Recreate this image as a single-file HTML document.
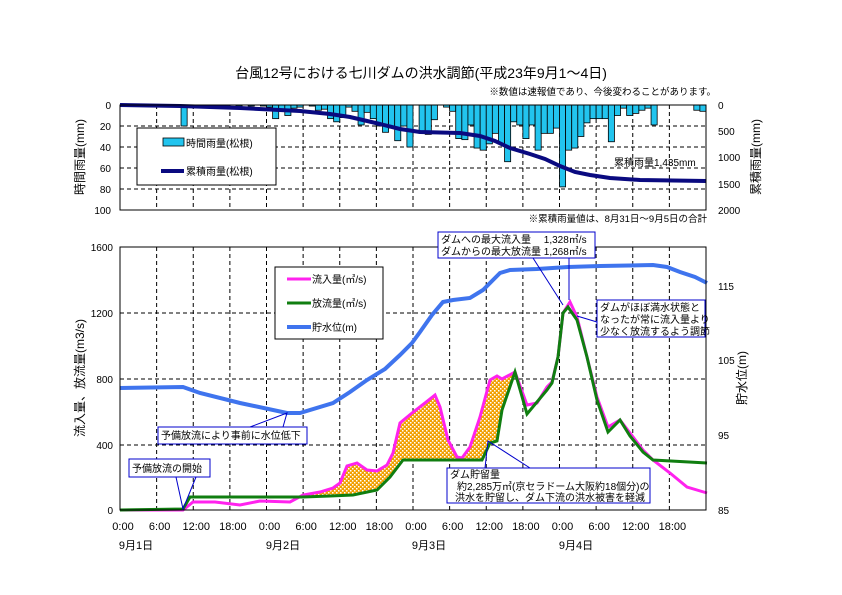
<!DOCTYPE html>
<html><head><meta charset="utf-8">
<style>
html,body{margin:0;padding:0;background:#fff;}
svg{display:block;font-family:"Liberation Sans","Noto Sans CJK JP",sans-serif;}
</style></head>
<body>
<svg id="s" width="842" height="595" viewBox="0 0 842 595" xmlns="http://www.w3.org/2000/svg">
<defs>
<pattern id="chk" width="4" height="4" patternUnits="userSpaceOnUse">
<rect width="4" height="4" fill="#f2a000"/>
<rect x="0" y="0" width="1.5" height="1.5" fill="#fff"/><rect x="2" y="2" width="1.5" height="1.5" fill="#fff"/>
</pattern>
</defs>
<rect width="842" height="595" fill="#fff"/>
<text x="421" y="78" font-size="14" text-anchor="middle">台風12号における七川ダムの洪水調節(平成23年9月1～4日)</text>
<text x="716" y="95" font-size="9.5" text-anchor="end">※数値は速報値であり、今後変わることがあります。</text>
<text x="707" y="222" font-size="9.5" text-anchor="end">※累積雨量値は、8月31日～9月5日の合計</text>
<g id="grid" stroke="#000" stroke-width="1" stroke-dasharray="4,3" fill="none"></g>
<g id="bars" fill="#22c4ee" stroke="#000" stroke-width="0.8"></g>
<polyline fill="none" stroke="#0a0a80" stroke-width="4" points="120,105 180,106 240,108 300,111 330,114 350,117 380,124 400,129 420,132 460,133 480,136 495,141 510,148 530,154 545,159 560,166 575,172 590,175 610,178 640,180 706,181"/>
<rect x="120" y="105" width="586" height="105" fill="none" stroke="#000" stroke-width="1"/>
<rect x="137" y="128" width="139" height="57" fill="#fff" stroke="#000"/>
<rect x="163" y="138" width="21" height="8" fill="#22c4ee" stroke="#000" stroke-width="0.8"/>
<text x="186" y="147" font-size="10">時間雨量(松根)</text>
<line x1="161" y1="171" x2="184" y2="171" stroke="#0a0a80" stroke-width="4"/>
<text x="186" y="175" font-size="10">累積雨量(松根)</text>
<text x="614" y="166" font-size="10">累積雨量1,435mm</text>
<g font-size="10" text-anchor="end">
<text x="111" y="109">0</text><text x="111" y="130">20</text><text x="111" y="151">40</text><text x="111" y="172">60</text><text x="111" y="193">80</text><text x="111" y="214">100</text>
</g>
<g font-size="10">
<text x="718" y="109">0</text><text x="718" y="135">500</text><text x="718" y="161">1000</text><text x="718" y="188">1500</text><text x="718" y="214">2000</text>
</g>
<text transform="translate(84,157) rotate(-90)" font-size="12" text-anchor="middle">時間雨量(mm)</text>
<text transform="translate(760,157) rotate(-90)" font-size="12" text-anchor="middle">累積雨量(mm)</text>

<g id="grid2" stroke="#000" stroke-width="1" stroke-dasharray="4,3" fill="none"></g>
<polygon id="fillp" fill="url(#chk)" stroke="none" points="0,0"/>
<polyline id="blue" fill="none" stroke="#3f74ee" stroke-width="4" points="120,388 183,387 200,393 240,403 287,413 300,413 333,403 350,392 367,380 385,369 400,355 412,343 420,332 432,315 443,302 453,300 470,298 483,290 493,280 500,273 510,270 537,269 568,267 600,266 653,265 667,267 680,272 695,277 707,283"/>
<polyline id="mag" fill="none" stroke="#ff22ee" stroke-width="3" points="120,510 183,510 193,502 215,502 240,505 260,501 290,502 303,495 320,492 333,488 340,483 347,466 357,463 367,470 377,471 387,465 393,453 400,423 412,413 425,403 435,395 440,407 448,440 457,457 462,458 470,447 480,417 490,380 497,376 502,379 515,372 527,405 537,403 547,387 552,382 558,357 563,313 570,302 577,317 587,357 597,397 608,427 620,420 630,433 643,450 653,460 670,473 687,487 707,493"/>
<polyline id="grn" fill="none" stroke="#107e10" stroke-width="3" points="120,510 183,509 190,497 303,497 330,496 353,495 377,490 390,477 403,460 482,460 490,443 497,441 502,410 515,372 527,414 547,390 552,383 558,357 563,313 568,307 577,320 587,357 597,400 608,432 620,420 630,436 643,452 653,460 707,463"/>
<rect x="120" y="247" width="586" height="263" fill="none" stroke="#000" stroke-width="1"/>
<rect x="275" y="267" width="108" height="72" fill="#fff" stroke="#000"/>
<line x1="287" y1="279" x2="311" y2="279" stroke="#ff22ee" stroke-width="3"/>
<text x="312" y="283" font-size="10">流入量(㎥/s)</text>
<line x1="287" y1="303" x2="311" y2="303" stroke="#107e10" stroke-width="3"/>
<text x="312" y="307" font-size="10">放流量(㎥/s)</text>
<line x1="287" y1="327" x2="311" y2="327" stroke="#3f74ee" stroke-width="4"/>
<text x="312" y="331" font-size="10">貯水位(m)</text>
<g stroke="#0000cc" stroke-width="1" fill="#fff">
<polyline fill="none" points="533,258 563,305"/>
<polyline fill="none" points="569,258 569,300"/>
<rect x="438" y="232" width="157" height="26"/>
<polyline fill="none" points="597,322 577,316"/>
<rect x="597" y="300" width="108" height="37"/>
<polyline fill="none" points="485,468 488,441 530,468"/>
<rect x="447" y="468" width="203" height="35"/>
<polyline fill="none" points="250,427 287,413 283,427"/>
<rect x="158" y="427" width="149" height="17"/>
<polyline fill="none" points="176,477 183,509 196,477"/>
<rect x="129" y="459" width="81" height="18"/>
</g>
<g font-size="10" fill="#000">
<text x="441" y="243">ダムへの最大流入量　 1,328㎥/s</text>
<text x="441" y="255">ダムからの最大放流量  1,268㎥/s</text>
<text x="600" y="311">ダムがほぼ満水状態と</text>
<text x="600" y="323">なったが常に流入量より</text>
<text x="600" y="335">少なく放流するよう調節</text>
<text x="450" y="478">ダム貯留量</text>
<text x="457" y="490">約2,285万㎥(京セラドーム大阪約18個分)の</text>
<text x="455" y="501">洪水を貯留し、ダム下流の洪水被害を軽減</text>
<text x="161" y="439">予備放流により事前に水位低下</text>
<text x="132" y="472">予備放流の開始</text>
</g>
<g font-size="10" text-anchor="end">
<text x="113" y="514">0</text><text x="113" y="449">400</text><text x="113" y="383">800</text><text x="113" y="317">1200</text><text x="113" y="251">1600</text>
</g>
<g font-size="10">
<text x="718" y="514">85</text><text x="718" y="439">95</text><text x="718" y="364">105</text><text x="718" y="290">115</text>
</g>
<text transform="translate(84,378) rotate(-90)" font-size="12" text-anchor="middle">流入量、放流量(m3/s)</text>
<text transform="translate(746,378) rotate(-90)" font-size="12" text-anchor="middle">貯水位(m)</text>
<g id="xl" font-size="11" text-anchor="middle"></g>
<g font-size="11" text-anchor="middle">
<text x="136" y="549">9月1日</text><text x="283" y="549">9月2日</text><text x="429" y="549">9月3日</text><text x="576" y="549">9月4日</text>
</g>
</svg>
<script>
(function(){
var NS="http://www.w3.org/2000/svg";
function el(p,t,a,txt){var e=document.createElementNS(NS,t);for(var k in a)e.setAttribute(k,a[k]);if(txt)e.textContent=txt;p.appendChild(e);return e;}
var x0=120,x1=706,dx=(x1-x0)/16;
var g=document.getElementById('grid'),g2=document.getElementById('grid2');
for(var i=1;i<16;i++){var x=x0+i*dx;el(g,'line',{x1:x,y1:105,x2:x,y2:210});el(g2,'line',{x1:x,y1:247,x2:x,y2:510});}
[126,147,168,189].forEach(function(y){el(g,'line',{x1:x0,y1:y,x2:x1,y2:y});});
[445,379,313].forEach(function(y){el(g2,'line',{x1:x0,y1:y,x2:x1,y2:y});});
var v=[0,0,0,0,0,0,0,0,0,0,20,0,1,0,0,1,0,1,0,1,0,1,0,1,2,13,4,10,3,2,0,1,5,4,13,16,12,2,6,19,7,13,20,26,22,34,20,40,0,
27,28,14,0,2,6,32,33,19,41,43,37,27,37,54,16,19,32,19,43,27,27,22,78,43,41,30,17,13,13,13,35,10,3,10,8,5,3,19,0,0,0,0,0,0,5,6];
var b=document.getElementById('bars'),w=(x1-x0)/96;
v.forEach(function(val,h){if(val>0&&h<96)el(b,'rect',{x:x0+h*w,y:105,width:w,height:Math.min(val*1.05,105)});});
var xl=document.getElementById('xl'),lab=['0:00','6:00','12:00','18:00'];
for(var i=0;i<16;i++){el(xl,'text',{x:x0+i*dx+3,y:530},lab[i%4]);}
function pts(id){return document.getElementById(id).getAttribute('points').trim().split(/\s+/).map(function(p){var a=p.split(',');return [+a[0],+a[1]];});}
function interp(P,x){for(var i=1;i<P.length;i++){if(P[i][0]>=x){var a=P[i-1],c=P[i];var t=(x-a[0])/((c[0]-a[0])||1);return a[1]+t*(c[1]-a[1]);}}return P[P.length-1][1];}
var M=pts('mag'),G=pts('grn'),upper=[],lower=[];
for(var x=303;x<=515;x+=1){upper.push(x+','+interp(M,x));lower.unshift(x+','+interp(G,x));}
document.getElementById('fillp').setAttribute('points',upper.concat(lower).join(' '));
})();
</script>
</body></html>
